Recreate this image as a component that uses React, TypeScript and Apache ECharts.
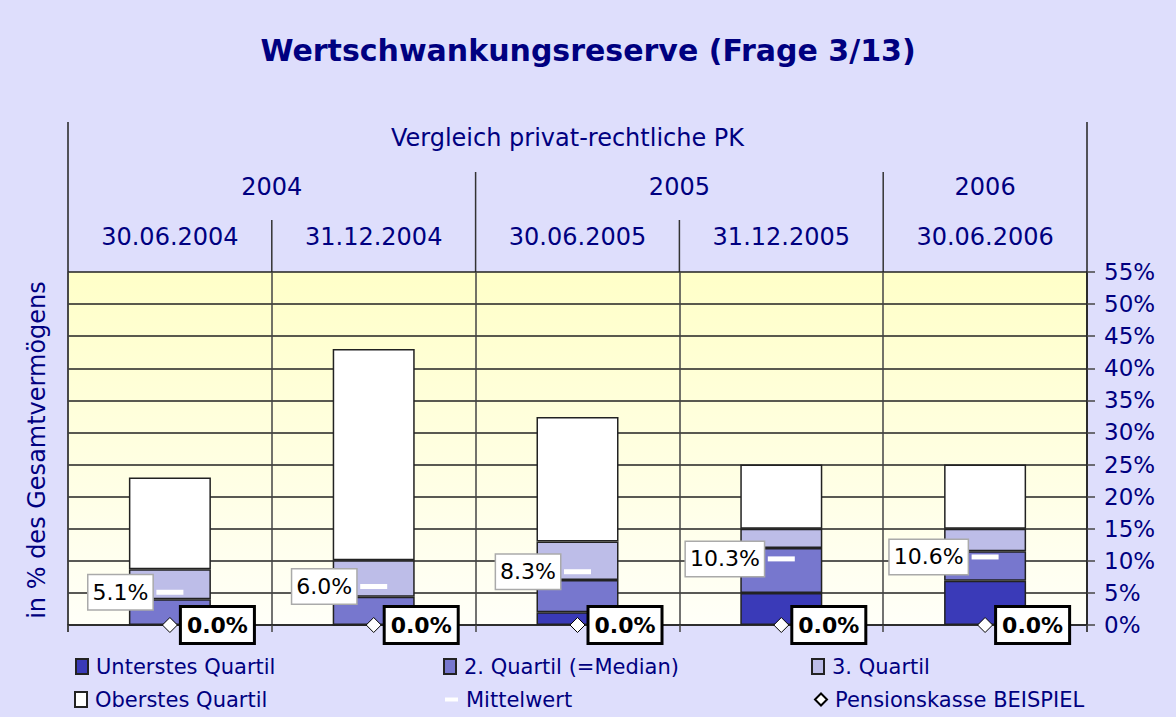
import React, { useEffect, useRef } from "react";
import * as echarts from "echarts";

// ---- data ----
const dates = ["30.06.2004", "31.12.2004", "30.06.2005", "31.12.2005", "30.06.2006"];
const years = ["2004", "2005", "2006"];
const yearSpans = [2, 2, 1];
const headerTitle = "Vergleich privat-rechtliche PK";
// quartile boundaries (upper edge of each band, in %)
const p25 = [0, 0, 2.0, 5.0, 6.9];
const p50 = [4.0, 4.4, 7.0, 12.0, 11.5];
const p75 = [8.7, 10.1, 13.0, 15.0, 15.0];
const pMax = [23.0, 43.0, 32.4, 25.0, 25.0];
const mittelwert = [5.1, 6.0, 8.3, 10.3, 10.6];
const pensionskasse = [0.0, 0.0, 0.0, 0.0, 0.0];
const yTicks = { min: 0, max: 55, interval: 5 };

const NAVY = "#000080";
const FONT = "DejaVu Sans";
const C1 = "#3A3AB8";
const C2 = "#7777CE";
const C3 = "#BDBDE8";
const C4 = "#FFFFFF";

const W = 1176;
const H = 717;
const GL = 68;
const GR = 1087;
const GT = 272;
const GB = 625;

export default function App() {
  const ref = useRef<HTMLDivElement>(null);
  useEffect(() => {
    if (!ref.current) return;
    const chart = echarts.init(ref.current, undefined, { renderer: "svg" });
    const seg1 = p25.map((v) => v);
    const seg2 = p50.map((v, i) => +(v - p25[i]).toFixed(2));
    const seg3 = p75.map((v, i) => +(v - p50[i]).toFixed(2));
    const seg4 = pMax.map((v, i) => +(v - p75[i]).toFixed(2));
    const cw = (GR - GL) / dates.length;

    const graphics: any[] = [];
    graphics.push({
      type: "text",
      x: W / 2,
      y: 50,
      style: { text: "Wertschwankungsreserve (Frage 3/13)", font: `bold 30px "${FONT}"`, fill: NAVY, align: "center", verticalAlign: "middle" },
    });
    graphics.push({
      type: "text",
      x: (GL + GR) / 2 - 10,
      y: 138,
      style: { text: headerTitle, font: `24px "${FONT}"`, fill: NAVY, align: "center", verticalAlign: "middle" },
    });
    let start = 0;
    years.forEach((y, i) => {
      const span = yearSpans[i];
      graphics.push({
        type: "text",
        x: GL + cw * (start + span / 2),
        y: 187,
        style: { text: y, font: `24px "${FONT}"`, fill: NAVY, align: "center", verticalAlign: "middle" },
      });
      start += span;
      if (start < dates.length) {
        graphics.push({ type: "line", shape: { x1: GL + cw * start, y1: 172, x2: GL + cw * start, y2: GT }, style: { stroke: "#333", lineWidth: 1.5 } });
      }
    });
    // date separators inside year groups
    let s2 = 0;
    yearSpans.forEach((span) => {
      for (let k = 1; k < span; k++) {
        const x = GL + cw * (s2 + k);
        graphics.push({ type: "line", shape: { x1: x, y1: 220, x2: x, y2: GT }, style: { stroke: "#333", lineWidth: 1.5 } });
      }
      s2 += span;
    });
    graphics.push({ type: "line", shape: { x1: GL, y1: 122, x2: GL, y2: GB + 7 }, style: { stroke: "#222", lineWidth: 1.5 } });
    graphics.push({ type: "line", shape: { x1: GR, y1: 122, x2: GR, y2: GB + 7 }, style: { stroke: "#222", lineWidth: 1.5 } });
    graphics.push({
      type: "text",
      x: 37,
      y: 450,
      rotation: Math.PI / 2,
      style: { text: "in % des Gesamtvermögens", font: `24px "${FONT}"`, fill: NAVY, align: "center", verticalAlign: "middle" },
    });

    const barBase = { type: "bar", stack: "q", barWidth: 82, xAxisIndex: 0, z: 2 };
    const legendBase = {
      padding: 0,
      itemGap: 0,
      textStyle: { color: NAVY, fontSize: 21, fontFamily: FONT, padding: [0, 0, 0, 3] },
      selectedMode: false,
    };

    chart.setOption({
      animation: false,
      backgroundColor: "#DEDEFC",
      textStyle: { fontFamily: FONT },
      grid: {
        left: GL,
        right: W - GR,
        top: GT,
        bottom: H - GB,
        show: true,
        borderWidth: 0,
        backgroundColor: new echarts.graphic.LinearGradient(0, 0, 0, 1, [
          { offset: 0, color: "#FFFFC8" },
          { offset: 1, color: "#FFFFF8" },
        ]),
      },
      xAxis: [
        {
          type: "category",
          data: dates,
          position: "bottom",
          axisLine: { lineStyle: { color: "#222", width: 1.5 } },
          axisTick: { show: true, length: 7, lineStyle: { color: "#444", width: 1.5 } },
          axisLabel: { show: false },
          splitLine: { show: true, lineStyle: { color: "#444", width: 1.5 } },
        },
        {
          type: "category",
          data: dates,
          position: "top",
          axisLine: { show: false },
          axisTick: { show: false },
          axisLabel: { color: NAVY, fontSize: 24, fontFamily: FONT, margin: 23 },
          splitLine: { show: false },
        },
      ],
      yAxis: {
        type: "value",
        position: "right",
        min: yTicks.min,
        max: yTicks.max,
        interval: yTicks.interval,
        axisLine: { show: true, lineStyle: { color: "#222", width: 1.5 } },
        axisTick: { show: true, length: 8, lineStyle: { color: "#444", width: 1.5 } },
        axisLabel: { color: NAVY, fontSize: 23, fontFamily: FONT, margin: 17, formatter: "{value}%" },
        splitLine: { lineStyle: { color: "#222", width: 1.5 } },
      },
      legend: [
        { ...legendBase, left: 75, top: 656, data: [{ name: "Unterstes Quartil", icon: "rect" }], itemWidth: 12, itemHeight: 15 },
        { ...legendBase, left: 443, top: 656, data: [{ name: "2. Quartil (=Median)", icon: "rect" }], itemWidth: 12, itemHeight: 15 },
        { ...legendBase, left: 811, top: 656, data: [{ name: "3. Quartil", icon: "rect" }], itemWidth: 12, itemHeight: 15 },
        { ...legendBase, left: 74, top: 689, data: [{ name: "Oberstes Quartil", icon: "rect" }], itemWidth: 12, itemHeight: 15 },
        { ...legendBase, left: 445, top: 689, data: [{ name: "Mittelwert", icon: "rect" }], itemWidth: 13, itemHeight: 4 },
        { ...legendBase, left: 814, top: 689, data: [{ name: "Pensionskasse BEISPIEL", icon: "diamond" }], itemWidth: 12, itemHeight: 12 },
      ],
      graphic: graphics,
      series: [
        { ...barBase, name: "Unterstes Quartil", data: seg1, itemStyle: { color: C1, borderColor: "#222", borderWidth: 1.5 } },
        { ...barBase, name: "2. Quartil (=Median)", data: seg2, itemStyle: { color: C2, borderColor: "#222", borderWidth: 1.5 } },
        { ...barBase, name: "3. Quartil", data: seg3, itemStyle: { color: C3, borderColor: "#222", borderWidth: 1.5 } },
        { ...barBase, name: "Oberstes Quartil", data: seg4, itemStyle: { color: C4, borderColor: "#222", borderWidth: 1.5 } },
        {
          type: "scatter",
          name: "Mittelwert",
          xAxisIndex: 0,
          data: mittelwert,
          symbol: "rect",
          symbolSize: [27, 5],
          itemStyle: { color: "#FFFFFF", opacity: 1 },
          z: 5,
          label: {
            show: true,
            position: "left",
            distance: 4,
            formatter: (p: any) => p.value.toFixed(1) + "%",
            color: "#000",
            fontSize: 22,
            fontFamily: FONT,
            backgroundColor: "#FFFFFF",
            borderColor: "#AAAAAA",
            borderWidth: 1.5,
            padding: [7, 4, 5, 4],
          },
        },
        {
          type: "scatter",
          name: "Pensionskasse BEISPIEL",
          xAxisIndex: 0,
          data: pensionskasse,
          symbol: "diamond",
          symbolSize: [15, 15],
          itemStyle: { color: "#FFFFFF", borderColor: "#000", borderWidth: 1, opacity: 1 },
          z: 6,
          label: {
            show: true,
            position: "right",
            distance: 4,
            formatter: (p: any) => p.value.toFixed(1) + "%",
            color: "#000",
            fontSize: 22,
            fontWeight: "bold",
            fontFamily: FONT,
            backgroundColor: "#FFFFFF",
            borderColor: "#000",
            borderWidth: 3,
            padding: [7, 5, 5, 5],
          },
        },
      ],
    });
    return () => chart.dispose();
  }, []);
  return <div ref={ref} style={{ position: "fixed", left: 0, top: 0, width: W, height: H }} />;
}
